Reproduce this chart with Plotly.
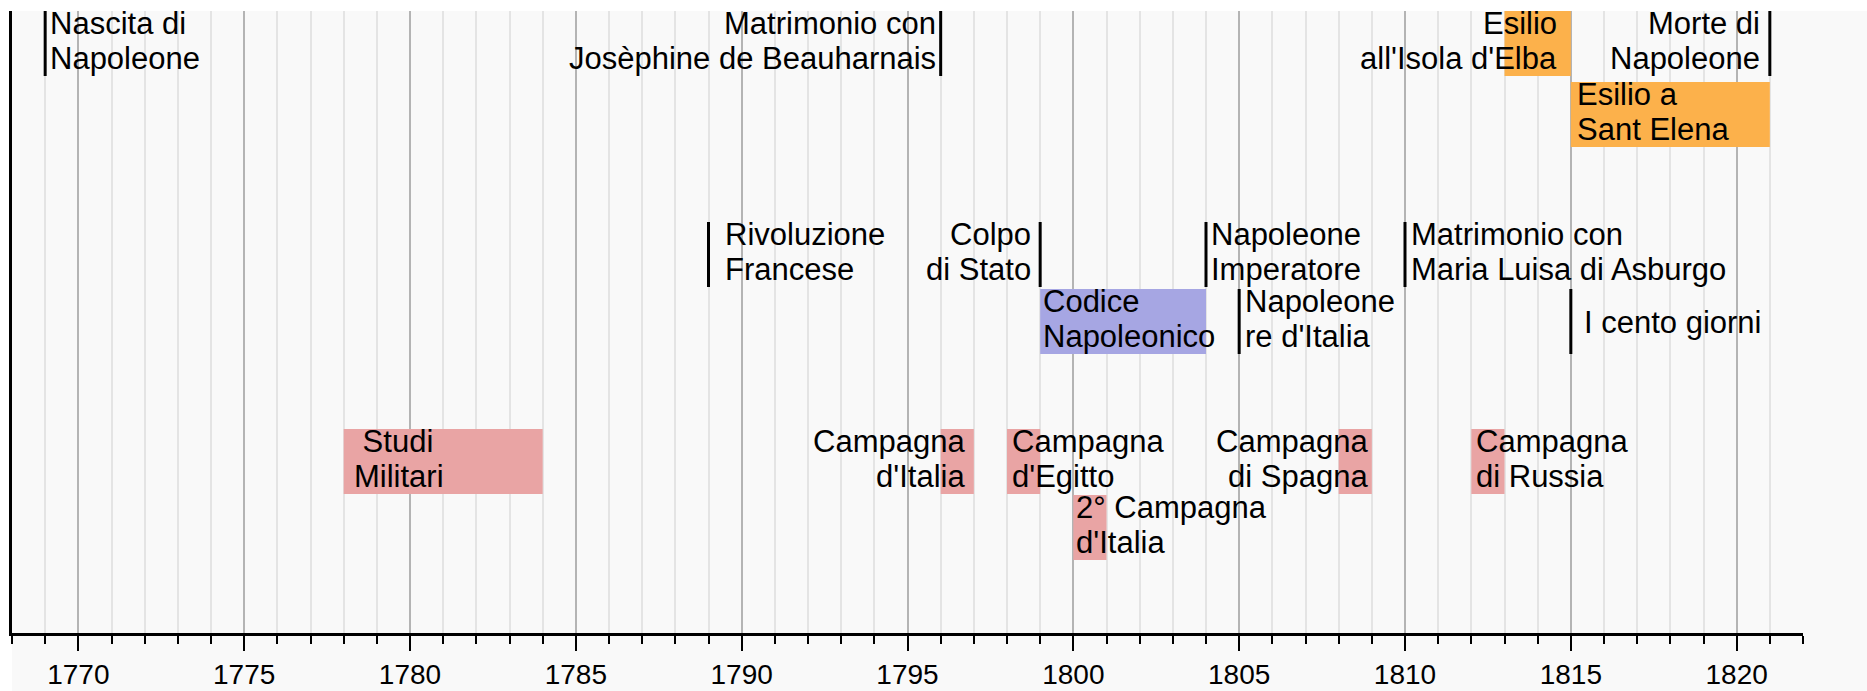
import plotly.graph_objects as go

# ---------------- data ----------------
# periods (coloured bars)
range_labels = [
    "Esilio\nall'Isola d'Elba",
    "Esilio a\nSant Elena",
    "Codice\nNapoleonico",
    "\u00a0Studi\nMilitari",
    "Campagna\nd'Italia",
    "Campagna\nd'Egitto",
    "2° Campagna\nd'Italia",
    "Campagna\ndi Spagna",
    "Campagna\ndi Russia",
]
range_start = [1813, 1815, 1799, 1778, 1796, 1798, 1800, 1808, 1812]
range_end = [1815, 1821, 1804, 1784, 1797, 1799, 1801, 1809, 1813]
range_kind = ["esilio", "esilio", "riforma", "militare", "militare",
              "militare", "militare", "militare", "militare"]

# single events (vertical lines)
event_labels = [
    "Nascita di\nNapoleone",
    "Matrimonio con\nJosèphine de Beauharnais",
    "Morte di\nNapoleone",
    "Rivoluzione\nFrancese",
    "Colpo\ndi Stato",
    "Napoleone\nImperatore",
    "Matrimonio con\nMaria Luisa di Asburgo",
    "Napoleone\nre d'Italia",
    "I cento giorni",
]
event_years = [1769, 1796, 1821, 1789, 1799, 1804, 1810, 1805, 1815]

year_min, year_max = 1768, 1822

# ---------------- layout / style ----------------
kind_colors = {"esilio": "#FCB14B", "riforma": "#A6A6E3", "militare": "#E9A4A4"}

# lane tops in pixels from the top of the plot area
lane_top = {"A": 0, "B": 71, "C": 211, "D": 278, "E": 418, "F": 484}
lane_h = 65

range_lane = ["A", "B", "D", "E", "E", "E", "F", "E", "E"]
range_anchor = ["right", "left", "left", "left", "right", "left", "left", "right", "left"]
range_shift = [-14, 6, 3, 10, -9, 5, 3, -4, 5]

event_lane = ["A", "A", "A", "C", "C", "C", "C", "D", "D"]
event_anchor = ["left", "right", "right", "left", "right", "left", "left", "left", "left"]
event_shift = [5, -5, -10, 16, -9, 5, 6, 6, 13]

FONT = "Liberation Sans, Arial, Helvetica, sans-serif"
FSIZE = 31
W, H = 1867, 691
ML, MR, MT, MB = 12, 64, 11, 58
plot_h = H - MT - MB

fig = go.Figure()

# coloured period bars
fig.add_trace(go.Bar(
    orientation="h",
    base=range_start,
    x=[e - s for s, e in zip(range_start, range_end)],
    y=[lane_top[l] + lane_h / 2 for l in range_lane],
    width=lane_h,
    marker=dict(color=[kind_colors[k] for k in range_kind], line=dict(width=0)),
    hoverinfo="skip",
    showlegend=False,
))

# event lines
lx, ly = [], []
for yr, l in zip(event_years, event_lane):
    lx += [yr, yr, None]
    ly += [lane_top[l], lane_top[l] + lane_h, None]
fig.add_trace(go.Scatter(
    x=lx, y=ly, mode="lines",
    line=dict(color="black", width=3),
    hoverinfo="skip", showlegend=False,
))

# labels (one annotation per text line to control leading)
def add_label(text, xval, lane, anchor, shift):
    lines = text.split("\n")
    top = lane_top[lane]
    if len(lines) == 1:
        ys = [top + lane_h / 2 + 0.5]
    else:
        ys = [top + 12.5, top + 47]
    for t, yv in zip(lines, ys):
        fig.add_annotation(
            x=xval, y=yv, xref="x", yref="y", text=t, showarrow=False,
            xanchor=anchor, yanchor="middle", xshift=shift,
            borderpad=0, borderwidth=0,
            font=dict(family=FONT, size=FSIZE, color="black"),
        )

for lab, s, e, lane, anc, sh in zip(range_labels, range_start, range_end,
                                     range_lane, range_anchor, range_shift):
    add_label(lab, s if anc == "left" else e, lane, anc, sh)

for lab, yr, lane, anc, sh in zip(event_labels, event_years, event_lane,
                                  event_anchor, event_shift):
    add_label(lab, yr, lane, anc, sh)

# light background behind plot and tick labels
fig.add_shape(
    type="rect", xref="paper", yref="paper", layer="below",
    x0=0, x1=1 + MR / (W - ML - MR), y0=-MB / plot_h, y1=1,
    fillcolor="#F9F9F9", line=dict(width=0),
)

fig.update_layout(
    width=W, height=H, autosize=False,
    margin=dict(l=ML, r=MR, t=MT, b=MB, pad=0, autoexpand=False),
    paper_bgcolor="white", plot_bgcolor="rgba(0,0,0,0)",
    barmode="overlay", showlegend=False,
    xaxis=dict(
        range=[year_min, year_max], tickmode="linear", tick0=1770, dtick=5,
        ticks="outside", ticklen=15, tickwidth=2, tickcolor="black",
        showgrid=True, gridcolor="#B4B4B4", gridwidth=2,
        showline=True, linecolor="black", linewidth=3,
        zeroline=False, fixedrange=True, automargin=False,
        tickfont=dict(family=FONT, size=28, color="black"),
        ticklabelstandoff=-1,
        minor=dict(tickmode="linear", tick0=year_min, dtick=1,
                   ticks="outside", ticklen=8, tickwidth=2, tickcolor="black",
                   showgrid=True, gridcolor="#E4E4E4", gridwidth=2),
    ),
    yaxis=dict(
        range=[plot_h, 0], showgrid=False, zeroline=False, automargin=False,
        showticklabels=False, ticks="", fixedrange=True,
        showline=True, linecolor="black", linewidth=3,
    ),
)

fig.write_html(
    "out.html",
    config={"displayModeBar": False, "staticPlot": True},
    post_script="document.body.style.margin='0';document.body.style.padding='0';",
)
